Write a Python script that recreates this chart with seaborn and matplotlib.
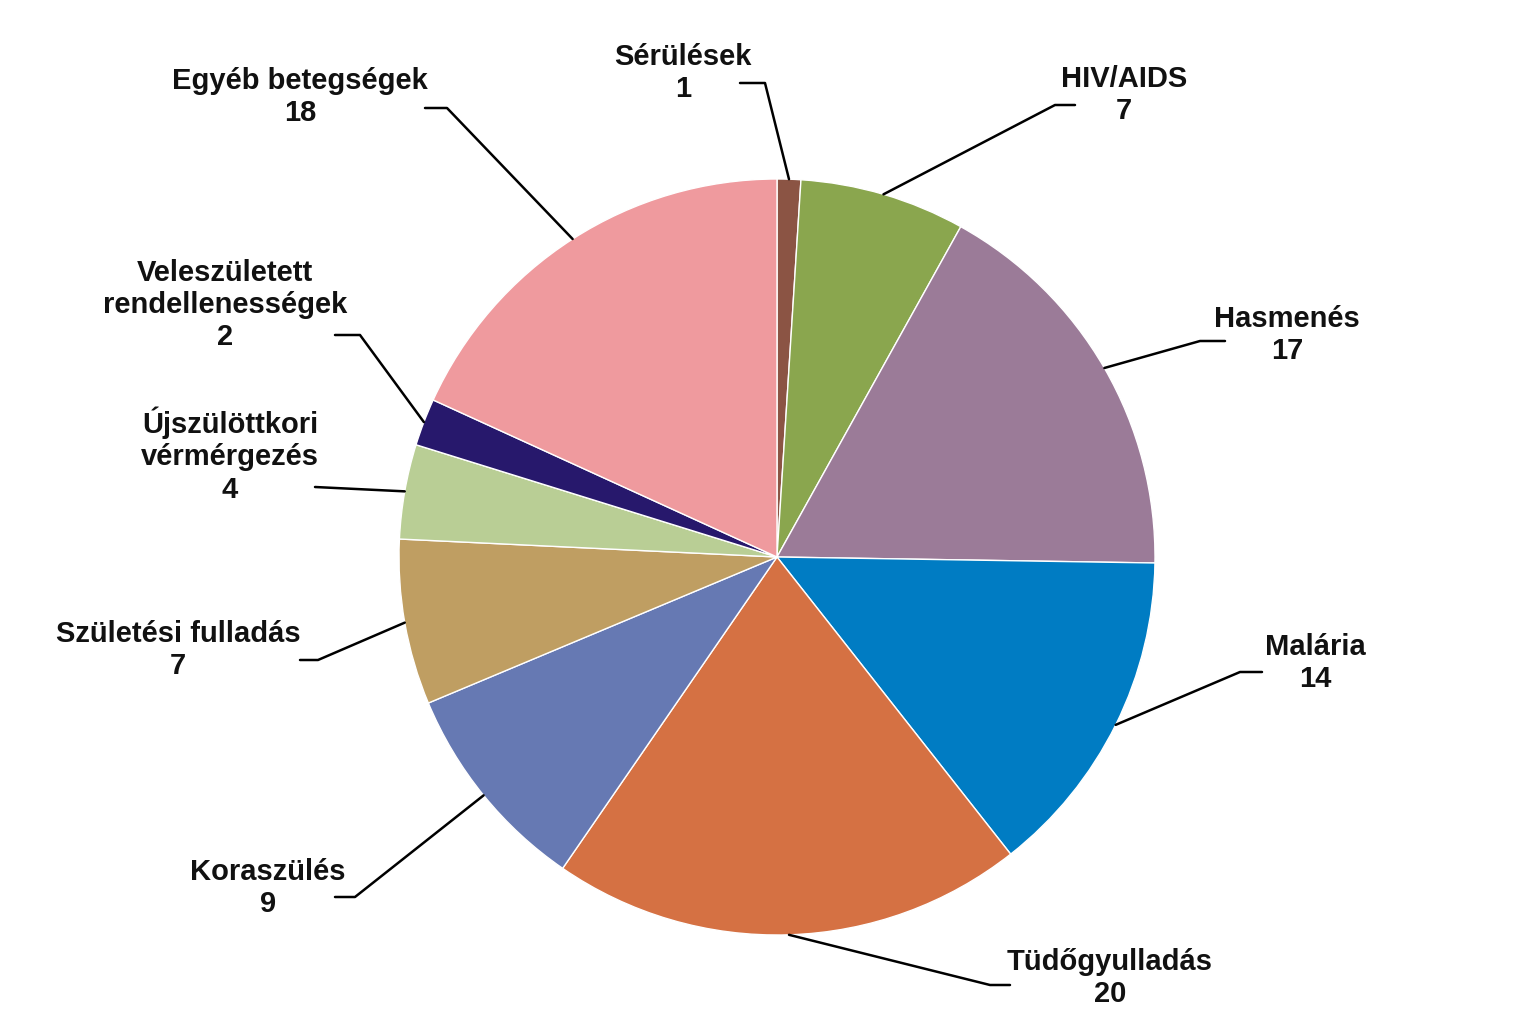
import numpy as np
import matplotlib.pyplot as plt
import seaborn as sns

sns.set_theme(style="white")
plt.rcParams["font.family"] = "Liberation Sans"

# data
labels = ["Sérülések", "HIV/AIDS", "Hasmenés", "Malária", "Tüdőgyulladás",
          "Koraszülés", "Születési fulladás", "Újszülöttkori\nvérmérgezés",
          "Veleszületett\nrendellenességek", "Egyéb betegségek"]
values = [1, 7, 17, 14, 20, 9, 7, 4, 2, 18]
colors = ["#8B5444", "#8AA64E", "#9B7B98", "#007CC3", "#D57143",
          "#6679B3", "#BF9E62", "#B9CE95", "#27186C", "#EF9A9E"]

# layout (pixel coords, y from top): text centre, elbow, line end
text_pos = [(683, 73), (1124, 95), (1287, 335), (1315, 663), (1110, 978),
            (268, 888), (178, 650), (230, 455), (225, 305), (300, 97)]
elbows = [(765, 83), (1055, 105), (1200, 341), (1240, 672), (990, 985),
          (355, 897), (318, 660), (315, 487), (360, 335), (447, 108)]
ends = [(740, 83), (1075, 105), (1225, 341), (1262, 672), (1010, 985),
        (335, 897), (300, 660), (315, 487), (335, 335), (425, 108)]

W, H = 1521, 1025
cx, cy, r = 777, H - 557, 378

fig = plt.figure(figsize=(15.21, 10.25), dpi=100)
ax = fig.add_axes([0, 0, 1, 1])
ax.set_xlim(0, W)
ax.set_ylim(0, H)
ax.set_aspect("equal")
ax.axis("off")

wedges, _ = ax.pie(values, colors=colors, startangle=90, counterclock=False,
                   center=(cx, cy), radius=r, frame=True)
ax.set_xlim(0, W)
ax.set_ylim(0, H)
ax.axis("off")

for w, lab, v, tp, el, en in zip(wedges, labels, values, text_pos, elbows, ends):
    ang = np.deg2rad((w.theta1 + w.theta2) / 2)
    ax_, ay_ = cx + r * np.cos(ang), cy + r * np.sin(ang)
    ax.plot([ax_, el[0], en[0]], [ay_, H - el[1], H - en[1]], color="black", lw=1.8)
    ax.text(tp[0], H - tp[1], f"{lab}\n{v}", ha="center", va="center",
            fontsize=21, fontweight="bold", color="#111111", linespacing=1.2)

fig.savefig("out.png", dpi=100)
